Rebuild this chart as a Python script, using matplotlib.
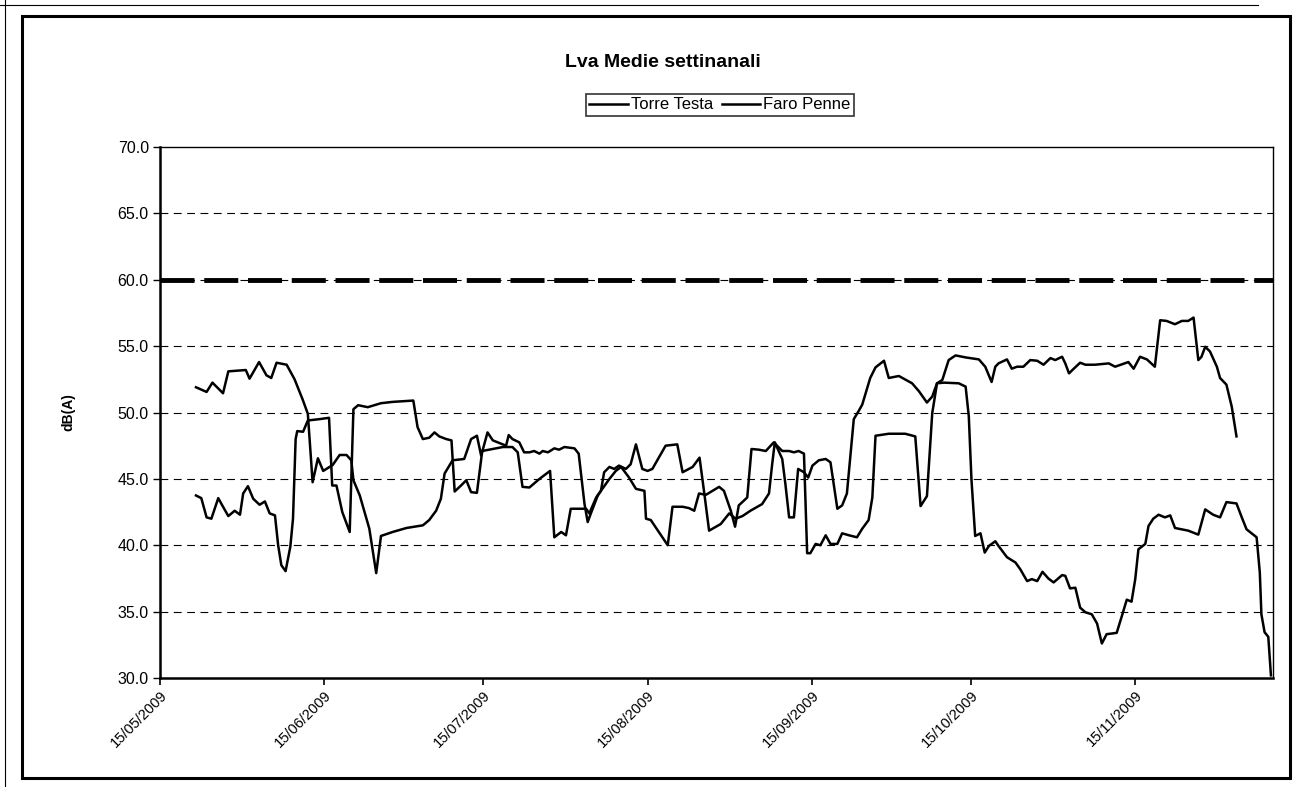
import matplotlib
matplotlib.use("Agg")
import matplotlib.pyplot as plt
import matplotlib.dates as mdates
from matplotlib.patches import Rectangle
from matplotlib.lines import Line2D
import pandas as pd

plt.rcParams['font.family'] = ['Liberation Sans', 'DejaVu Sans']

# giorni dal 15/05/2009 e valori Lva (medie settimanali mobili)
torre_giorni = [6.8, 8.8, 9.9, 11.9, 12.9, 16.2, 16.9, 18.7, 20.1, 21.0, 22.0, 23.9, 25.4, 26.9, 27.9,
                28.8, 29.8, 30.8, 32.6, 33.9, 35.2, 36.1, 36.5, 37.7, 39.5, 40.8, 41.7, 43.9, 46.5, 49.6,
                50.8, 52.1, 53.0, 53.7, 55.2, 57.4, 58.7, 59.8, 60.6, 61.8, 62.8, 65.3, 65.8, 66.5, 67.8,
                68.7, 69.7, 70.6, 71.6, 72.2, 73.2, 74.4, 75.3, 76.3, 78.2, 79.0, 80.1, 80.7, 81.3, 82.6,
                83.2, 83.8, 84.8, 85.7, 86.6, 87.9, 88.8, 89.8, 91.0, 92.0, 92.9, 95.4, 97.6, 98.6, 100.5,
                101.8, 102.7, 103.6, 105.8, 107.4, 108.6, 109.9, 111.4, 113.6, 114.9, 115.5, 116.0, 117.4,
                118.0, 118.7, 119.6, 120.4, 121.5, 122.3, 123.1, 124.3, 125.6, 126.5, 127.8, 128.7, 129.6,
                130.9, 131.8, 132.5, 134.0, 135.0, 136.6, 137.5, 139.4, 141.9, 143.2, 144.7, 145.7, 146.6,
                147.6, 148.8, 150.1, 152.0, 154.5, 155.7, 156.9, 157.6, 158.2, 159.8, 160.7, 161.7, 162.9,
                164.2, 165.5, 166.7, 168.0, 168.9, 170.2, 170.8, 171.5, 172.4, 173.6, 174.6, 176.4, 179.0,
                180.2, 182.7, 183.7, 184.9, 186.2, 187.7, 188.7, 189.9, 191.5, 192.8, 194.0, 195.0, 195.9,
                196.5, 197.2, 198.1, 199.4, 200.0, 201.2, 202.2, 203.1]
torre_lva = [51.9, 51.55, 52.25, 51.45, 53.1, 53.2, 52.55, 53.8, 52.8, 52.6, 53.75, 53.6, 52.5, 51.0, 49.9,
             44.75, 46.55, 45.6, 46.05, 46.8, 46.8, 46.4, 44.9, 43.75, 41.25, 37.9, 40.7, 41.0, 41.3, 41.5,
             41.9, 42.6, 43.5, 45.4, 46.4, 46.5, 48.0, 48.25, 46.75, 48.5, 47.9, 47.5, 48.3, 48.0, 47.75,
             47.0, 47.0, 47.1, 46.9, 47.1, 47.0, 47.3, 47.2, 47.4, 47.3, 46.9, 43.1, 41.75, 42.4, 43.75,
             44.1, 45.5, 45.9, 45.75, 46.0, 45.75, 46.1, 47.6, 45.75, 45.6, 45.75, 47.5, 47.6, 45.5, 45.9,
             46.6, 43.9, 41.1, 41.6, 42.4, 42.0, 42.2, 42.6, 43.1, 43.9, 46.1, 47.75, 46.5,
             44.6, 42.1, 42.1, 45.75, 45.5, 45.1, 46.0, 46.4, 46.5, 46.25, 42.75, 43.0, 43.9,
             49.5, 50.1, 50.6, 52.6, 53.4, 53.9, 52.6, 52.75, 52.2, 51.6, 50.75, 51.2, 52.2,
             52.45, 53.95, 54.3, 54.15, 54.0, 53.45, 52.3, 53.45, 53.7, 54.0, 53.3, 53.45, 53.45,
             53.95, 53.9, 53.6, 54.1, 53.95, 54.2, 53.7, 52.95, 53.3, 53.75, 53.6, 53.6, 53.7,
             53.45, 53.8, 53.3, 54.2, 54.0, 53.45, 56.95, 56.9, 56.65, 56.9, 56.9, 57.15, 53.95,
             54.2, 54.95, 54.6, 53.45, 52.6, 52.1, 50.45, 48.2]

faro_giorni = [6.8, 7.8, 8.8, 9.7, 11.0, 11.9, 12.9, 14.1, 15.1, 15.7, 16.6, 17.6, 18.8, 19.8, 20.7,
               21.7, 22.3, 22.9, 23.7, 24.6, 25.1, 25.6, 25.9, 27.0, 27.9, 30.1, 31.9, 32.5, 33.3, 34.4,
               35.8, 36.5, 37.4, 39.2, 41.7, 43.9, 47.8, 48.6, 49.6, 50.8, 51.8, 52.7, 54.0, 55.0, 55.6,
               56.8, 57.8, 58.7, 59.8, 60.8, 62.8, 64.7, 66.5, 67.5, 68.4, 69.7, 71.6, 73.6, 74.4, 75.7,
               76.6, 77.5, 80.4, 81.0, 82.3, 83.2, 84.8, 86.0, 87.0, 88.5, 89.8, 91.4, 91.7, 92.6, 95.8,
               96.7, 98.6, 99.8, 100.8, 101.7, 103.0, 105.5, 106.4, 107.7, 108.5, 109.2, 110.8, 111.6,
               113.0, 114.3, 115.8, 117.4, 118.7, 119.6, 120.5, 121.5, 122.1, 122.7, 123.7, 124.6, 125.6,
               126.5, 127.8, 128.7, 130.0, 131.5, 132.5, 133.7, 134.4, 135.0, 137.5, 140.6, 142.5, 143.5,
               144.7, 145.7, 146.6, 147.9, 150.7, 152.0, 152.6, 153.1, 153.8, 154.8, 155.6, 156.4, 157.6,
               158.2, 159.8, 161.4, 162.3, 163.6, 164.5, 165.5, 166.5, 167.6, 168.6, 170.2, 170.8, 171.7,
               172.7, 173.6, 174.6, 175.8, 176.8, 177.7, 178.6, 180.5, 181.5, 182.4, 183.3, 184.0, 184.6,
               185.9, 186.5, 187.4, 188.4, 189.6, 190.6, 191.5, 194.0, 195.9, 197.2, 198.7, 200.0, 201.2,
               203.1, 204.1, 205.0, 206.9, 207.5, 207.8, 208.4, 209.1, 209.6]
faro_lva = [43.75, 43.55, 42.1, 42.0, 43.55, 42.9, 42.2, 42.6, 42.3, 43.9, 44.45, 43.5, 43.05, 43.3, 42.4,
            42.25, 40.0, 38.5, 38.05, 39.9, 42.0, 48.0, 48.6, 48.55, 49.4, 49.5, 49.6, 44.5, 44.5, 42.5,
            41.0, 50.25, 50.55, 50.4, 50.7, 50.8, 50.9, 48.9, 48.0, 48.1, 48.5, 48.2, 48.0, 47.9, 44.05,
            44.5, 44.9, 44.0, 43.95, 47.1, 47.25, 47.4, 47.4, 47.0, 44.4, 44.35, 45.0, 45.6, 40.6, 41.0,
            40.75, 42.75, 42.75, 42.4, 43.6, 44.1, 45.0, 45.6, 45.9, 45.1, 44.25, 44.1, 42.0, 41.9, 40.0,
            42.9, 42.9, 42.8, 42.6, 43.9, 43.8, 44.4, 44.1, 42.6, 41.4, 43.0, 43.6, 47.25,
            47.2, 47.1, 47.75, 47.1, 47.1, 47.0, 47.1, 46.9, 39.4, 39.4, 40.1, 40.0, 40.75,
            40.1, 40.1, 40.9, 40.75, 40.6, 41.25, 41.9, 43.6, 48.25, 48.4, 48.4, 48.2, 42.95,
            43.7, 49.95, 52.2, 52.25, 52.2, 51.95, 49.7, 44.95, 40.7, 40.9, 39.45, 39.95, 40.3,
            39.95, 39.1, 38.7, 38.2, 37.3, 37.45, 37.3, 38.0, 37.5, 37.2, 37.75, 37.7, 36.75,
            36.8, 35.3, 34.95, 34.8, 34.1, 32.6, 33.3, 33.4, 34.7, 35.9, 35.75, 37.45, 39.7,
            40.1, 41.45, 42.0, 42.3, 42.1, 42.25, 41.3, 41.1, 40.8, 42.7, 42.3, 42.1, 43.25,
            43.15, 42.1, 41.2, 40.6, 37.95, 34.8, 33.45, 33.1, 30.2]

limite = 60.0
inizio = pd.Timestamp('2009-05-15')
fine = pd.Timestamp('2009-12-11')
tick_date = pd.to_datetime(['2009-05-15', '2009-06-15', '2009-07-15', '2009-08-15',
                            '2009-09-15', '2009-10-15', '2009-11-15'])

fig = plt.figure(figsize=(13.1, 7.87), dpi=100)
ax = fig.add_axes([0.1221, 0.1385, 0.8497, 0.6747])

x_torre = inizio + pd.to_timedelta(torre_giorni, unit='D')
x_faro = inizio + pd.to_timedelta(faro_giorni, unit='D')

l1, = ax.plot(x_torre, torre_lva, color='black', lw=1.8, label='Torre Testa')
l2, = ax.plot(x_faro, faro_lva, color='black', lw=1.8, label='Faro Penne')

# griglia tratteggiata
for y in range(35, 70, 5):
    ax.axhline(y, color='black', lw=0.8, dashes=(7, 5), zorder=0)
ax.axhline(limite, color='black', lw=3.5, dashes=(7, 2), zorder=1)

ax.set_yticks(range(30, 71, 5))
ax.yaxis.set_major_formatter(matplotlib.ticker.FormatStrFormatter('%.1f'))
ax.set_xticks(tick_date)
ax.xaxis.set_major_formatter(mdates.DateFormatter('%d/%m/%Y'))
ax.set_xlim(inizio, fine)
ax.set_ylim(30, 70)
for lab in ax.get_xticklabels():
    lab.set_rotation(45)
    lab.set_ha('right')
    lab.set_rotation_mode('anchor')
ax.tick_params(axis='x', labelsize=10.5, length=5, width=1.2, direction='out', pad=2)
ax.tick_params(axis='y', labelsize=11.5, length=5, width=1.0, direction='out', pad=3)
for s in ['left', 'bottom']:
    ax.spines[s].set_linewidth(1.8)
for s in ['top', 'right']:
    ax.spines[s].set_linewidth(1.0)

fig.text(0.052, 0.476, 'dB(A)', rotation=90, ha='center', va='center', fontsize=10, fontweight='bold')
fig.text(0.506, 0.921, 'Lva Medie settinanali', ha='center', va='center', fontsize=14, fontweight='bold')

leg = fig.legend(handles=[l1, l2], loc='center', bbox_to_anchor=(0.5496, 0.8666), ncol=2,
                 fontsize=12, frameon=True, fancybox=False, handlelength=2.3, handletextpad=0.2,
                 columnspacing=0.5, borderpad=0.2, borderaxespad=0)
leg.get_frame().set_edgecolor('black')
leg.get_frame().set_linewidth(1.2)

# cornice dell'area del grafico e bordo pagina
fig.patches.append(Rectangle((0.0168, 0.0114), 0.968, 0.968, transform=fig.transFigure,
                             fill=False, edgecolor='black', lw=2.2))
fig.add_artist(Line2D([0.004, 0.004], [0.0, 1.0], transform=fig.transFigure, color='black', lw=0.8))
fig.add_artist(Line2D([0.0, 0.96], [0.994, 0.994], transform=fig.transFigure, color='black', lw=0.8))

fig.savefig('out.png', dpi=100)
